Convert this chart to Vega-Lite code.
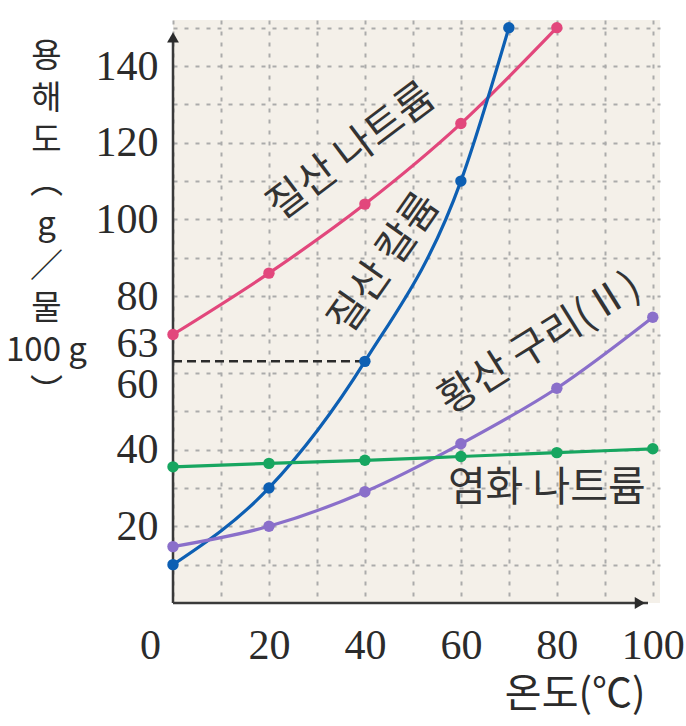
{
  "$schema": "https://vega.github.io/schema/vega-lite/v6.json",
  "width": 487,
  "height": 583,
  "autosize": "none",
  "padding": {"left": 173, "top": 20, "right": 26, "bottom": 123},
  "background": "white",
  "config": {
    "view": {"fill": "#f4f0e9", "stroke": null},
    "font": "Noto Sans CJK KR"
  },
  "datasets": {
    "sol": [
      {"name": "질산 나트륨", "t": 0, "s": 70},
      {"name": "질산 나트륨", "t": 20, "s": 86},
      {"name": "질산 나트륨", "t": 40, "s": 104},
      {"name": "질산 나트륨", "t": 60, "s": 125},
      {"name": "질산 나트륨", "t": 80, "s": 150},
      {"name": "질산 칼륨", "t": 0, "s": 10},
      {"name": "질산 칼륨", "t": 20, "s": 30},
      {"name": "질산 칼륨", "t": 40, "s": 63},
      {"name": "질산 칼륨", "t": 60, "s": 110},
      {"name": "질산 칼륨", "t": 70, "s": 150},
      {"name": "황산 구리(Ⅱ)", "t": 0, "s": 14.7},
      {"name": "황산 구리(Ⅱ)", "t": 20, "s": 20},
      {"name": "황산 구리(Ⅱ)", "t": 40, "s": 29},
      {"name": "황산 구리(Ⅱ)", "t": 60, "s": 41.5},
      {"name": "황산 구리(Ⅱ)", "t": 80, "s": 56},
      {"name": "황산 구리(Ⅱ)", "t": 100, "s": 74.5},
      {"name": "염화 나트륨", "t": 0, "s": 35.5},
      {"name": "염화 나트륨", "t": 20, "s": 36.4},
      {"name": "염화 나트륨", "t": 40, "s": 37.2},
      {"name": "염화 나트륨", "t": 60, "s": 38.2},
      {"name": "염화 나트륨", "t": 80, "s": 39.2},
      {"name": "염화 나트륨", "t": 100, "s": 40.2}
    ]
  },
  "encoding": {
    "x": {
      "field": "t",
      "type": "quantitative",
      "scale": {"domain": [0, 101.5], "nice": false, "zero": false},
      "axis": {
        "values": [0, 10, 20, 30, 40, 50, 60, 70, 80, 90, 100],
        "labelExpr": "datum.value % 20 === 0 ? datum.label : ''",
        "labelFlush": false,
        "labelOverlap": false,
        "labelOffset": {"condition": {"test": "datum.value === 0", "value": -23}, "value": 0},
        "labelFont": "Liberation Serif",
        "labelFontSize": 42,
        "labelColor": "#2b2b2b",
        "labelPadding": 22,
        "ticks": false,
        "domain": false,
        "grid": true,
        "gridColor": "#ababab",
        "gridDash": [4, 7],
        "gridWidth": 2,
        "title": "온도(℃)",
        "titleFont": "Noto Sans CJK KR",
        "titleFontSize": 40,
        "titleFontWeight": "normal",
        "titleColor": "#2b2b2b",
        "titleAlign": "right",
        "titleBaseline": "alphabetic",
        "titleX": 472,
        "titleY": 103
      }
    },
    "y": {
      "field": "s",
      "type": "quantitative",
      "scale": {"domain": [0, 152], "nice": false},
      "axis": {
        "values": [10, 20, 30, 40, 50, 60, 63, 70, 80, 90, 100, 110, 120, 130, 140, 150],
        "labelExpr": "indexof([20, 40, 60, 63, 80, 100, 120, 140], datum.value) >= 0 ? datum.label : ''",
        "labelOverlap": false,
        "labelBound": false,
        "labelOffset": {
          "condition": [
            {"test": "datum.value === 63", "value": -18},
            {"test": "datum.value === 60", "value": 12}
          ],
          "value": 0
        },
        "labelFont": "Liberation Serif",
        "labelFontSize": 42,
        "labelColor": "#2b2b2b",
        "labelPadding": 15,
        "ticks": false,
        "domain": false,
        "grid": true,
        "gridColor": "#ababab",
        "gridDash": [4, 7],
        "gridWidth": 2,
        "gridOpacity": {"condition": {"test": "datum.value === 63", "value": 0}, "value": 1},
        "title": ["용", "해", "도", "︵", "g", "／", "물", "100 g", "︶"],
        "titleFont": "Noto Sans CJK KR",
        "titleFontSize": 33,
        "titleFontWeight": "normal",
        "titleColor": "#2b2b2b",
        "titleLineHeight": 42,
        "titleAngle": 0,
        "titleAlign": "center",
        "titleBaseline": "top",
        "titleX": -127,
        "titleY": 20
      }
    }
  },
  "layer": [
    {
      "data": {"values": [
        {"t": 0, "s": 0, "t2": 99, "s2": 0},
        {"t": 0, "s": 0, "t2": 0, "s2": 147}
      ]},
      "mark": {"type": "rule", "color": "#3a3a3a", "strokeWidth": 2.5},
      "encoding": {"x2": {"field": "t2"}, "y2": {"field": "s2"}}
    },
    {
      "data": {"values": [{"t": 97.3, "s": 0}]},
      "mark": {"type": "point", "shape": "triangle-right", "filled": true, "size": 140, "color": "#2b2b2b", "opacity": 1, "clip": false},
      "encoding": {}
    },
    {
      "data": {"values": [{"t": 0, "s": 147.5}]},
      "mark": {"type": "point", "shape": "triangle-up", "filled": true, "size": 140, "color": "#2b2b2b", "opacity": 1, "clip": false},
      "encoding": {}
    },
    {
      "data": {"values": [{"t": 0, "s": 63, "t2": 40}]},
      "mark": {"type": "rule", "color": "#2b2b2b", "strokeWidth": 2.5, "strokeDash": [9, 5]},
      "encoding": {"x2": {"field": "t2"}}
    },
    {
      "data": {"name": "sol"},
      "mark": {"type": "line", "interpolate": "monotone", "strokeWidth": 3.2},
      "encoding": {
        "color": {
          "field": "name",
          "type": "nominal",
          "scale": {
            "domain": ["질산 나트륨", "질산 칼륨", "황산 구리(Ⅱ)", "염화 나트륨"],
            "range": ["#e2477c", "#0d5fb3", "#8a6fca", "#17a660"]
          },
          "legend": null
        }
      }
    },
    {
      "data": {"name": "sol"},
      "mark": {"type": "point", "filled": true, "size": 130, "opacity": 1, "clip": false},
      "encoding": {
        "color": {"field": "name", "type": "nominal", "legend": null}
      }
    },
    {
      "data": {"values": [{"label": "질산 나트륨", "t": 37.3, "s": 117.5}]},
      "mark": {"type": "text", "angle": -37, "fontSize": 41, "color": "#333333"},
      "encoding": {"text": {"field": "label"}}
    },
    {
      "data": {"values": [{"label": "질산 칼륨", "t": 44.2, "s": 88.5}]},
      "mark": {"type": "text", "angle": -55, "fontSize": 41, "color": "#333333"},
      "encoding": {"text": {"field": "label"}}
    },
    {
      "data": {"values": [{"label": "황산 구리(Ⅱ)", "t": 76.5, "s": 67.5}]},
      "mark": {"type": "text", "angle": -32, "fontSize": 41, "color": "#333333"},
      "encoding": {"text": {"field": "label"}}
    },
    {
      "data": {"values": [{"label": "염화 나트륨", "t": 77.9, "s": 29.8}]},
      "mark": {"type": "text", "fontSize": 41, "color": "#333333"},
      "encoding": {"text": {"field": "label"}}
    }
  ]
}
